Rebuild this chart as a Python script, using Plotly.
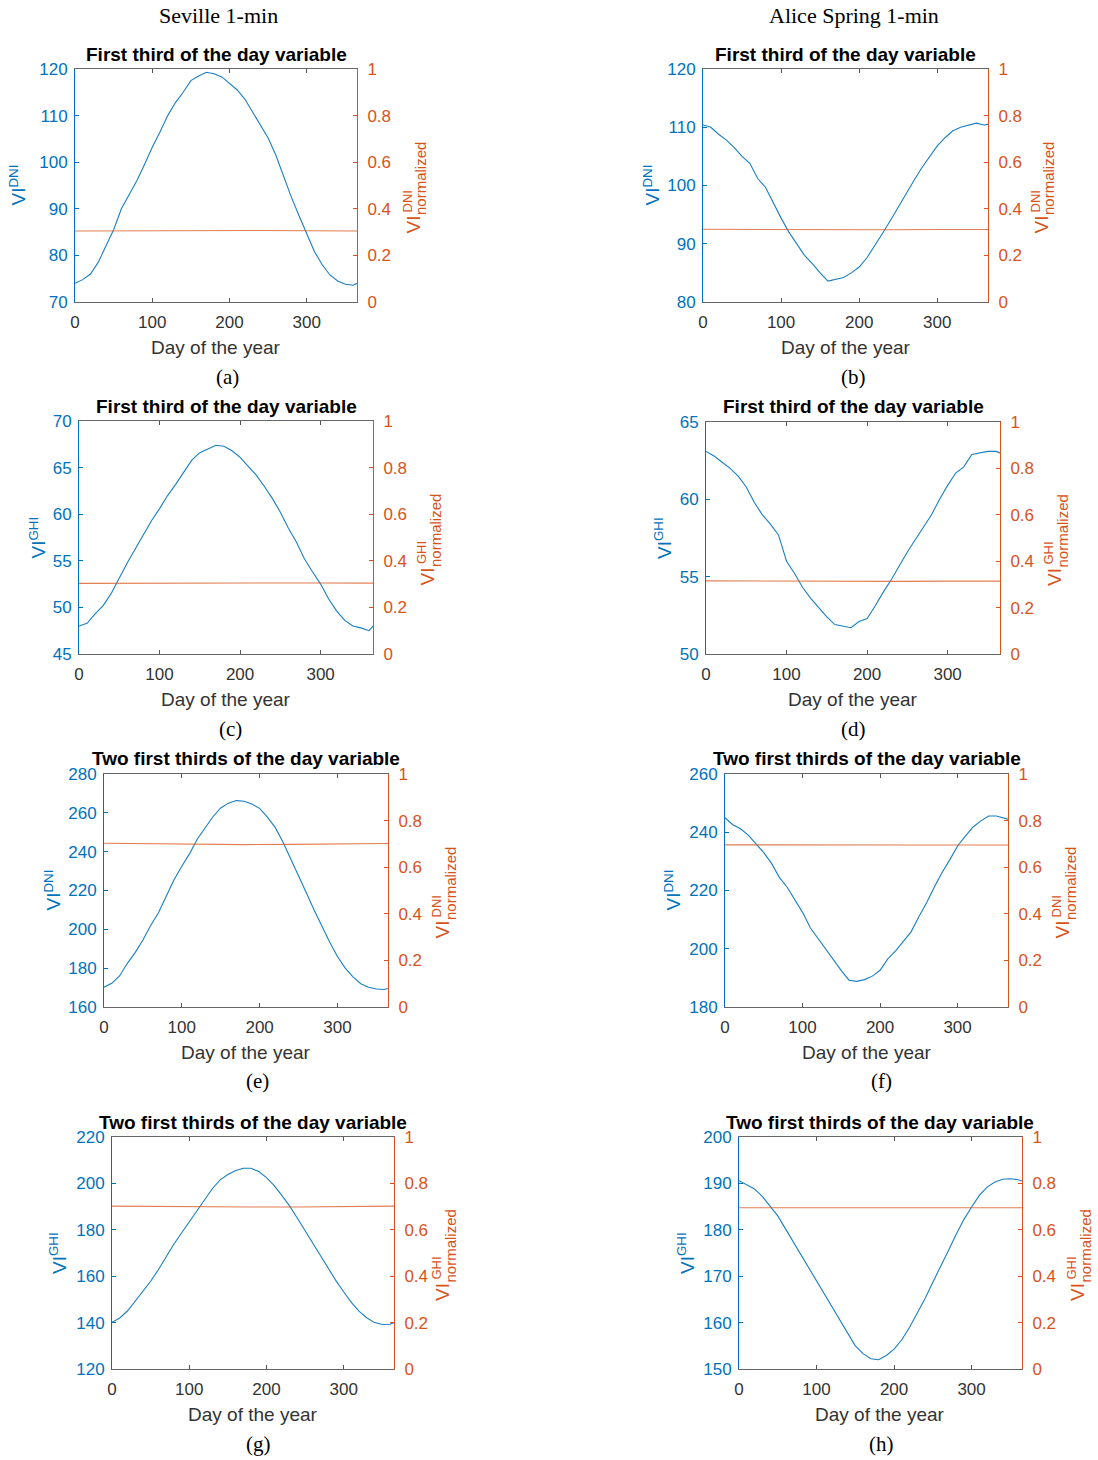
import plotly.graph_objects as go

# ---------------- data ----------------
DAYS = [0, 10, 20, 30, 40, 50, 60, 70, 80, 90, 100, 110, 120, 130, 140, 150, 160, 170, 180,
        190, 200, 210, 220, 230, 240, 250, 260, 270, 280, 290, 300, 310, 320, 330, 340, 350, 360, 365]

# (a) Seville, DNI, first third
VI_SEV_DNI_1 = [74.0, 74.8, 76.0, 78.5, 82.0, 85.5, 90.0, 93.0, 96.0, 99.5, 103.2, 106.5, 110.0, 112.8,
                115.0, 117.5, 118.5, 119.3, 119.0, 118.3, 117.0, 115.5, 113.5, 110.8, 108.2, 105.2,
                101.5, 97.0, 92.5, 88.5, 84.5, 80.8, 78.0, 75.8, 74.5, 73.8, 73.6, 74.0]
# (b) Alice Spring, DNI, first third
VI_ALI_DNI_1 = [110.4, 110.0, 108.8, 107.8, 106.5, 105.0, 103.8, 101.2, 99.7, 97.0, 94.4, 92.0, 90.0,
                88.0, 86.6, 85.0, 83.6, 83.9, 84.2, 85.0, 86.0, 87.6, 89.6, 91.8, 94.0, 96.3, 98.7,
                100.8, 103.0, 105.0, 106.8, 108.2, 109.4, 110.0, 110.3, 110.7, 110.4, 110.5]
# (c) Seville, GHI, first third
VI_SEV_GHI_1 = [48.0, 48.3, 49.3, 50.2, 51.5, 53.2, 54.8, 56.3, 57.8, 59.3, 60.6, 62.0, 63.2, 64.5,
                65.8, 66.6, 67.0, 67.4, 67.3, 66.8, 66.1, 65.2, 64.2, 63.0, 61.7, 60.2, 58.5, 57.0,
                55.2, 53.8, 52.5, 50.9, 49.6, 48.6, 48.0, 47.8, 47.5, 48.0]
# (d) Alice Spring, GHI, first third
VI_ALI_GHI_1 = [63.1, 62.8, 62.4, 62.0, 61.5, 60.8, 59.8, 59.0, 58.4, 57.7, 56.0, 55.2, 54.3, 53.6,
                53.0, 52.4, 51.9, 51.8, 51.7, 52.1, 52.3, 53.1, 54.0, 54.8, 55.7, 56.6, 57.4, 58.2,
                59.0, 60.0, 60.9, 61.7, 62.1, 62.9, 63.0, 63.1, 63.1, 63.0]
# (e) Seville, DNI, two first thirds
VI_SEV_DNI_2 = [170.2, 172.2, 176.0, 182.5, 188.0, 194.5, 202.0, 208.5, 217.0, 225.5, 232.5, 239.0,
                246.5, 252.0, 258.0, 262.5, 265.0, 266.3, 266.0, 264.5, 262.3, 257.8, 252.5, 245.0,
                236.5, 228.0, 218.8, 210.0, 201.5, 193.5, 186.0, 180.0, 175.5, 172.0, 170.2, 169.3,
                169.0, 169.5]
# (f) Alice Spring, DNI, two first thirds
VI_ALI_DNI_2 = [245.0, 242.6, 241.2, 239.0, 236.0, 233.0, 229.3, 224.5, 221.2, 217.0, 212.5, 207.2,
                203.5, 199.5, 196.0, 192.5, 189.2, 188.8, 189.4, 190.6, 192.6, 196.5, 199.3, 202.5,
                205.8, 211.0, 215.8, 221.2, 226.2, 230.6, 235.3, 238.7, 241.8, 243.9, 245.6, 245.6,
                245.0, 244.5]
# (g) Seville, GHI, two first thirds
VI_SEV_GHI_2 = [140.1, 142.0, 145.0, 149.2, 153.5, 157.8, 162.8, 168.4, 173.8, 178.6, 183.5, 188.0,
                193.2, 197.8, 201.5, 203.8, 205.6, 206.5, 206.5, 205.1, 202.5, 199.0, 194.7, 190.2,
                185.0, 179.5, 174.0, 168.5, 163.0, 158.0, 153.2, 148.6, 144.8, 142.0, 140.0, 139.2,
                139.3, 140.0]
# (h) Alice Spring, GHI, two first thirds
VI_ALI_GHI_2 = [190.6, 189.7, 188.8, 187.2, 185.2, 183.0, 180.2, 177.4, 174.6, 171.8, 169.0, 166.0,
                163.2, 160.4, 157.8, 155.0, 153.3, 152.2, 152.0, 152.9, 154.3, 156.3, 159.0, 162.1,
                165.2, 168.7, 172.0, 175.5, 179.0, 182.2, 184.9, 187.4, 189.2, 190.3, 190.9, 191.0,
                190.8, 190.5]

NORM_DAYS = [0, 60, 120, 180, 240, 300, 365]
NORM_SEV_DNI_1 = [0.305, 0.306, 0.307, 0.307, 0.307, 0.306, 0.305]
NORM_ALI_DNI_1 = [0.312, 0.311, 0.310, 0.309, 0.310, 0.311, 0.311]
NORM_SEV_GHI_1 = [0.303, 0.304, 0.305, 0.305, 0.305, 0.305, 0.304]
NORM_ALI_GHI_1 = [0.315, 0.314, 0.313, 0.312, 0.313, 0.314, 0.314]
NORM_SEV_DNI_2 = [0.703, 0.700, 0.698, 0.697, 0.698, 0.700, 0.702]
NORM_ALI_DNI_2 = [0.696, 0.695, 0.694, 0.694, 0.695, 0.695, 0.695]
NORM_SEV_GHI_2 = [0.702, 0.700, 0.698, 0.698, 0.698, 0.700, 0.702]
NORM_ALI_GHI_2 = [0.695, 0.695, 0.695, 0.696, 0.695, 0.695, 0.695]

VI_SERIES = [VI_SEV_DNI_1, VI_ALI_DNI_1, VI_SEV_GHI_1, VI_ALI_GHI_1,
             VI_SEV_DNI_2, VI_ALI_DNI_2, VI_SEV_GHI_2, VI_ALI_GHI_2]
NORM_SERIES = [NORM_SEV_DNI_1, NORM_ALI_DNI_1, NORM_SEV_GHI_1, NORM_ALI_GHI_1,
               NORM_SEV_DNI_2, NORM_ALI_DNI_2, NORM_SEV_GHI_2, NORM_ALI_GHI_2]
VARIABLES = ["DNI", "DNI", "GHI", "GHI", "DNI", "DNI", "GHI", "GHI"]
TITLES = ["First third of the day variable"] * 4 + ["Two first thirds of the day variable"] * 4
CAPTIONS = ["(a)", "(b)", "(c)", "(d)", "(e)", "(f)", "(g)", "(h)"]
LEFT_RANGES = [(70, 120, 10), (80, 120, 10), (45, 70, 5), (50, 65, 5),
               (160, 280, 20), (180, 260, 20), (120, 220, 20), (150, 200, 10)]
X_TICKS = [0, 100, 200, 300]
RIGHT_TICKS = [0, 0.2, 0.4, 0.6, 0.8, 1]
RIGHT_TICKTEXT = ["0", "0.2", "0.4", "0.6", "0.8", "1"]
COLUMN_HEADERS = ["Seville 1-min", "Alice Spring 1-min"]
X_TITLE = "Day of the year"

# ---------------- layout / style ----------------
W, H = 1098, 1460
BLUE = "#0072BD"
ORANGE = "#D95319"
GRAY = "#333333"
SANS = "Liberation Sans, Arial, sans-serif"
SERIF = "Liberation Serif, Times New Roman, serif"

# plot boxes in pixels: left, right, top, bottom
BOXES = [(75, 357, 69, 302), (703, 988, 69, 302),
         (79, 373, 421, 654), (706, 1000, 422, 654),
         (104, 388, 774, 1007), (725, 1008, 774, 1007),
         (112, 394, 1137, 1369), (739, 1022, 1137, 1369)]
LEFT_TITLE_OFF = [57, 51, 42, 43, 52, 53, 54, 53]
RIGHT_TITLE_OFF = [56, 53, 54, 54, 54, 54, 48, 55]
CAPTION_POS = [(227, 377), (853, 377), (230, 729), (853, 729),
               (257, 1081), (881, 1081), (258, 1444), (881, 1444)]


def px(x):
    return x / W


def py(y):
    return 1 - y / H


fig = go.Figure()
layout = dict(width=W, height=H, autosize=False,
              margin=dict(l=0, r=0, t=0, b=0, pad=0, autoexpand=False),
              paper_bgcolor="white", plot_bgcolor="white", showlegend=False,
              font=dict(family=SANS, color=GRAY))
annotations = []

for i in range(8):
    L, R, T, B = BOXES[i]
    xn = "" if i == 0 else str(i + 1)
    yl = "" if i == 0 else str(2 * i + 1)
    yr = str(2 * i + 2)
    xref, ylref, yrref = "x" + xn, "y" + yl, "y" + yr

    fig.add_trace(go.Scatter(x=DAYS, y=VI_SERIES[i], mode="lines", xaxis=xref, yaxis=ylref,
                             line=dict(color=BLUE, width=1.1), opacity=0.9, hoverinfo="skip"))
    fig.add_trace(go.Scatter(x=NORM_DAYS, y=NORM_SERIES[i], mode="lines", xaxis=xref, yaxis=yrref,
                             line=dict(color=ORANGE, width=1.1), opacity=0.75, hoverinfo="skip"))

    lo, hi, dt = LEFT_RANGES[i]
    layout["xaxis" + xn] = dict(domain=[px(L), px(R)], anchor=ylref, range=[0, 365],
                                tickvals=X_TICKS, ticks="inside", ticklen=4, tickcolor="#555",
                                showline=True, linecolor="#666", linewidth=1, mirror="ticks",
                                showgrid=False, zeroline=False, ticklabelstandoff=5,
                                automargin=False,
                                tickfont=dict(size=17, color=GRAY, family=SANS))
    layout["yaxis" + yl] = dict(domain=[py(B), py(T)], anchor=xref, range=[lo, hi],
                                tick0=lo, dtick=dt, ticks="inside", ticklen=4, tickcolor=BLUE,
                                showline=True, linecolor=BLUE, linewidth=1,
                                showgrid=False, zeroline=False, ticklabelstandoff=3,
                                automargin=False,
                                tickfont=dict(size=17, color=BLUE, family=SANS))
    layout["yaxis" + yr] = dict(domain=[py(B), py(T)], anchor=xref, overlaying=ylref, side="right",
                                range=[0, 1], tickvals=RIGHT_TICKS, ticktext=RIGHT_TICKTEXT,
                                ticks="inside", ticklen=4, tickcolor=ORANGE,
                                showline=True, linecolor=ORANGE, linewidth=1,
                                showgrid=False, zeroline=False, ticklabelstandoff=6,
                                automargin=False,
                                tickfont=dict(size=17, color=ORANGE, family=SANS))

    cx = (L + R) / 2
    cy = (T + B) / 2
    # panel title
    annotations.append(dict(text="<b>" + TITLES[i] + "</b>", x=px(cx), y=py(T - 15),
                            xref="paper", yref="paper", showarrow=False, xanchor="center",
                            yanchor="middle", font=dict(size=19, color="black", family=SANS)))
    # x-axis title
    annotations.append(dict(text=X_TITLE, x=px(cx), y=py(B + 45), xref="paper", yref="paper",
                            showarrow=False, xanchor="center", yanchor="middle",
                            font=dict(size=19, color=GRAY, family=SANS)))
    # left y title
    annotations.append(dict(text="VI<sup>" + VARIABLES[i] + "</sup>", x=px(L - LEFT_TITLE_OFF[i]),
                            y=py(cy), xref="paper", yref="paper", showarrow=False,
                            xanchor="center", yanchor="middle", textangle=-90,
                            font=dict(size=19, color=BLUE, family=SANS)))
    # right y title: VI with stacked superscript / subscript
    rx = R + RIGHT_TITLE_OFF[i]
    annotations.append(dict(text="VI", x=px(rx), y=py(cy + 49), xref="paper", yref="paper",
                            showarrow=False, xanchor="center", yanchor="bottom", textangle=-90,
                            borderpad=0, font=dict(size=19, color=ORANGE, family=SANS)))
    annotations.append(dict(text=VARIABLES[i], x=px(rx - 6), y=py(cy + 28), xref="paper",
                            yref="paper", showarrow=False, xanchor="center", yanchor="bottom",
                            textangle=-90, borderpad=0,
                            font=dict(size=13, color=ORANGE, family=SANS)))
    annotations.append(dict(text="normalized", x=px(rx + 8), y=py(cy + 31), xref="paper",
                            yref="paper", showarrow=False, xanchor="center", yanchor="bottom",
                            textangle=-90, borderpad=0,
                            font=dict(size=15, color=ORANGE, family=SANS)))
    # caption
    capx, capy = CAPTION_POS[i]
    annotations.append(dict(text=CAPTIONS[i], x=px(capx), y=py(capy), xref="paper", yref="paper",
                            showarrow=False, xanchor="center", yanchor="middle",
                            font=dict(size=21, color="black", family=SERIF)))

# column headers
for txt, hx in zip(COLUMN_HEADERS, [218, 854]):
    annotations.append(dict(text=txt, x=px(hx), y=py(15), xref="paper", yref="paper",
                            showarrow=False, xanchor="center", yanchor="middle",
                            font=dict(size=22, color="black", family=SERIF)))

layout["annotations"] = annotations
fig.update_layout(**layout)
fig.write_html("out.html", config={"displayModeBar": False},
               post_script="document.body.style.margin='0px';document.body.style.padding='0px';")
